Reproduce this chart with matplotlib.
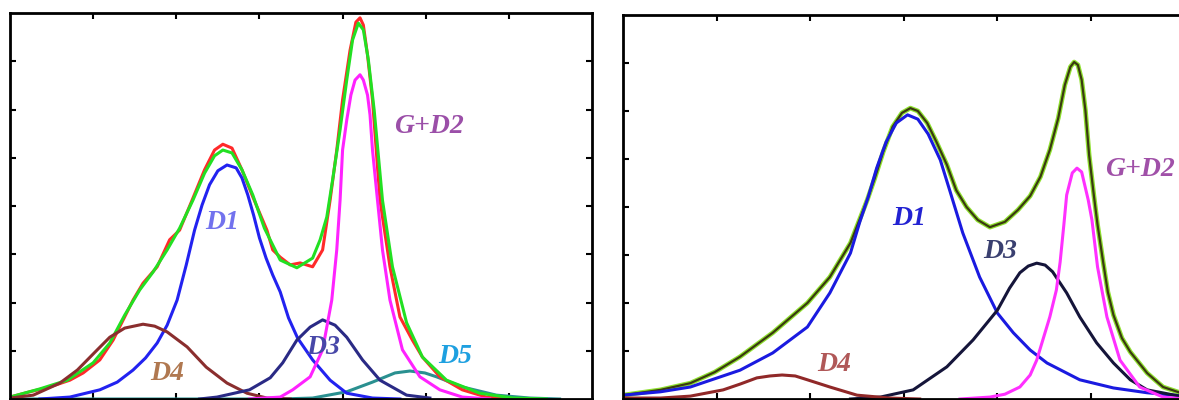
import matplotlib
matplotlib.use("Agg")
import matplotlib.pyplot as plt

# ---- left spectrum (arbitrary units: x in tick steps, y in tick steps) ----
left_meas_x = [0.00, 0.24, 0.48, 0.72, 0.88, 1.08, 1.24, 1.48, 1.60, 1.77, 1.92, 2.04, 2.19, 2.34,
               2.46, 2.56, 2.67, 2.79, 2.92, 3.09, 3.16, 3.25, 3.37, 3.49, 3.64, 3.76, 3.85, 3.93,
               4.00, 4.09, 4.16, 4.21, 4.25, 4.30, 4.36, 4.45, 4.57, 4.69, 4.84, 4.96, 5.17, 5.44,
               5.73, 6.05]
left_meas_y = [0.04, 0.15, 0.25, 0.39, 0.54, 0.81, 1.22, 2.05, 2.40, 2.74, 3.30, 3.50, 4.12, 4.75,
               5.16, 5.28, 5.20, 4.75, 4.19, 3.50, 3.09, 2.94, 2.78, 2.82, 2.74, 3.09, 4.12, 5.16,
               6.20, 7.23, 7.81, 7.90, 7.75, 7.13, 6.20, 4.12, 2.74, 1.70, 1.22, 0.87, 0.46, 0.19,
               0.04, 0.00]

left_fit_x = [0.00, 0.36, 0.69, 1.00, 1.20, 1.38, 1.56, 1.72, 1.89, 2.04, 2.20, 2.34, 2.46, 2.56,
              2.67, 2.79, 2.92, 3.06, 3.25, 3.45, 3.64, 3.73, 3.81, 3.88, 3.97, 4.05, 4.12, 4.19,
              4.25, 4.31, 4.38, 4.48, 4.60, 4.77, 4.96, 5.25, 5.65, 6.05, 6.45]
left_fit_y = [0.04, 0.21, 0.39, 0.75, 1.16, 1.74, 2.26, 2.63, 3.09, 3.54, 4.12, 4.68, 5.04, 5.16,
              5.10, 4.75, 4.23, 3.54, 2.88, 2.72, 2.92, 3.30, 3.77, 4.54, 5.58, 6.61, 7.44, 7.79,
              7.65, 7.03, 5.99, 4.12, 2.74, 1.58, 0.87, 0.39, 0.12, 0.02, 0.00]

left_d1_x = [0.36, 0.72, 1.08, 1.29, 1.48, 1.63, 1.77, 1.89, 2.01, 2.12, 2.22, 2.31, 2.40, 2.50,
             2.61, 2.72, 2.79, 2.86, 2.93, 3.00, 3.08, 3.16, 3.25, 3.35, 3.46, 3.64, 3.85, 4.05,
             4.36, 4.69]
left_d1_y = [0.00, 0.04, 0.19, 0.35, 0.60, 0.85, 1.16, 1.53, 2.05, 2.78, 3.50, 4.02, 4.44, 4.73,
             4.85, 4.79, 4.58, 4.23, 3.81, 3.34, 2.92, 2.57, 2.22, 1.68, 1.26, 0.81, 0.39, 0.12,
             0.02, 0.00]

left_d4_x = [0.00, 0.28, 0.60, 0.81, 1.05, 1.20, 1.38, 1.60, 1.74, 1.89, 2.13, 2.36, 2.61, 2.85,
             3.09, 3.37]
left_d4_y = [0.02, 0.08, 0.33, 0.60, 1.02, 1.28, 1.47, 1.55, 1.51, 1.39, 1.08, 0.66, 0.33, 0.12,
             0.02, 0.00]

left_d3_x = [2.28, 2.49, 2.88, 3.13, 3.28, 3.45, 3.61, 3.76, 3.91, 4.05, 4.24, 4.45, 4.77, 5.05]
left_d3_y = [0.00, 0.04, 0.19, 0.44, 0.75, 1.22, 1.49, 1.64, 1.53, 1.28, 0.81, 0.39, 0.08, 0.02]

left_g_x = [2.88, 3.25, 3.40, 3.61, 3.76, 3.87, 3.93, 3.97, 4.00, 4.05, 4.10, 4.15, 4.21, 4.25,
            4.30, 4.33, 4.36, 4.42, 4.48, 4.57, 4.72, 4.93, 5.17, 5.44, 5.77]
left_g_y = [0.00, 0.04, 0.19, 0.46, 1.02, 2.05, 3.09, 4.12, 5.16, 5.78, 6.30, 6.61, 6.72, 6.61,
            6.30, 5.89, 5.16, 4.12, 3.09, 2.05, 1.02, 0.46, 0.19, 0.04, 0.00]

left_d5_x = [0.00, 1.50, 3.25, 3.64, 4.05, 4.36, 4.63, 4.81, 4.99, 5.13, 5.44, 5.85, 6.25, 6.61]
left_d5_y = [0.00, 0.00, 0.00, 0.02, 0.15, 0.35, 0.54, 0.58, 0.54, 0.46, 0.25, 0.08, 0.02, 0.00]

# ---- right spectrum ----
right_fit_x = [0.00, 0.40, 0.72, 0.98, 1.25, 1.60, 1.97, 2.21, 2.43, 2.61, 2.69, 2.78, 2.88, 2.98,
               3.07, 3.15, 3.25, 3.35, 3.46, 3.56, 3.67, 3.79, 3.92, 4.08, 4.22, 4.35, 4.46, 4.56,
               4.65, 4.72, 4.78, 4.82, 4.86, 4.90, 4.94, 4.98, 5.03, 5.07, 5.13, 5.18, 5.24, 5.33,
               5.42, 5.60, 5.77, 6.00]
right_fit_y = [0.08, 0.19, 0.33, 0.56, 0.88, 1.38, 2.00, 2.54, 3.25, 4.15, 4.60, 5.15, 5.67, 5.96,
               6.06, 6.00, 5.75, 5.35, 4.88, 4.35, 4.00, 3.73, 3.58, 3.69, 3.94, 4.23, 4.63, 5.19,
               5.85, 6.54, 6.92, 7.02, 6.96, 6.65, 6.02, 5.08, 4.25, 3.63, 2.85, 2.23, 1.75, 1.27,
               0.98, 0.54, 0.25, 0.10]

right_d1_x = [0.00, 0.40, 0.72, 1.25, 1.60, 1.97, 2.21, 2.43, 2.53, 2.62, 2.71, 2.81, 2.92, 3.04,
              3.15, 3.26, 3.39, 3.49, 3.63, 3.81, 4.00, 4.17, 4.35, 4.53, 4.88, 5.24, 5.60, 6.00]
right_d1_y = [0.08, 0.15, 0.25, 0.60, 0.96, 1.50, 2.21, 3.04, 3.69, 4.21, 4.81, 5.35, 5.75, 5.92,
              5.83, 5.52, 4.98, 4.35, 3.46, 2.54, 1.79, 1.38, 1.02, 0.75, 0.40, 0.23, 0.13, 0.06]

right_g_x = [3.60, 3.92, 4.08, 4.24, 4.35, 4.42, 4.56, 4.63, 4.67, 4.71, 4.74, 4.80, 4.85, 4.90,
             4.97, 5.01, 5.07, 5.17, 5.31, 5.52, 5.77, 6.00]
right_g_y = [0.00, 0.04, 0.10, 0.25, 0.50, 0.81, 1.71, 2.27, 2.85, 3.63, 4.25, 4.71, 4.81, 4.73,
             4.15, 3.73, 2.75, 1.71, 0.81, 0.25, 0.04, 0.00]

right_d3_x = [2.43, 2.75, 3.10, 3.46, 3.74, 4.00, 4.13, 4.24, 4.33, 4.42, 4.51, 4.59, 4.74, 4.88,
              5.06, 5.24, 5.42, 5.60, 6.00]
right_d3_y = [0.00, 0.04, 0.19, 0.67, 1.23, 1.85, 2.31, 2.63, 2.77, 2.83, 2.79, 2.65, 2.21, 1.71,
              1.17, 0.75, 0.40, 0.19, 0.04]

right_d4_x = [0.00, 0.40, 0.72, 1.07, 1.25, 1.43, 1.57, 1.70, 1.84, 1.97, 2.21, 2.50, 2.85, 3.17]
right_d4_y = [0.02, 0.02, 0.06, 0.19, 0.31, 0.44, 0.48, 0.50, 0.48, 0.40, 0.25, 0.08, 0.02, 0.00]

left_labels = [("G+D2", 5.04, 5.64, "#9b4fa8"), ("D1", 2.55, 3.65, "#7272ee"),
               ("D3", 3.77, 1.06, "#4848a8"), ("D4", 1.89, 0.52, "#b07850"),
               ("D5", 5.35, 0.89, "#1ea0e0")]
right_labels = [("G+D2", 5.52, 4.79, "#a050a8"), ("D1", 3.06, 3.77, "#2222d2"),
                ("D3", 4.03, 3.08, "#3a4070"), ("D4", 2.26, 0.71, "#b05858")]

fig = plt.figure(figsize=(11.79, 4.0), dpi=100)
ax1 = fig.add_axes([10 / 1179, 1 / 400, 582 / 1179, 386 / 400])
ax2 = fig.add_axes([623 / 1179, 1 / 400, 561.6 / 1179, 384 / 400])

lw = 2.2
ax1.plot(left_d5_x, left_d5_y, color="#2a9090", lw=lw)
ax1.plot(left_meas_x, left_meas_y, color="#ff2a2a", lw=lw)
ax1.plot(left_fit_x, left_fit_y, color="#22e022", lw=lw)
ax1.plot(left_d1_x, left_d1_y, color="#2222f0", lw=lw)
ax1.plot(left_d4_x, left_d4_y, color="#8a2e2e", lw=lw)
ax1.plot(left_d3_x, left_d3_y, color="#2a2a85", lw=lw)
ax1.plot(left_g_x, left_g_y, color="#ff22ff", lw=lw)

ax2.plot(right_fit_x, right_fit_y, color="#8fe030", lw=3.4)
ax2.plot(right_fit_x, right_fit_y, color="#3a3a10", lw=1.6)
ax2.plot(right_d1_x, right_d1_y, color="#1a1ae0", lw=lw)
ax2.plot(right_d3_x, right_d3_y, color="#15153a", lw=lw)
ax2.plot(right_g_x, right_g_y, color="#ff30ff", lw=lw)
ax2.plot(right_d4_x, right_d4_y, color="#902828", lw=lw)

for ax, labels in ((ax1, left_labels), (ax2, right_labels)):
    for txt, x, y, c in labels:
        ax.text(x, y, txt, color=c, fontsize=20, fontweight="bold", fontstyle="italic",
                family="Liberation Serif", ha="center", va="center")

ax1.set_xlim(0, 7)
ax1.set_ylim(0, 8)
ax2.set_xlim(0, 6)
ax2.set_ylim(0, 8)
for ax in (ax1, ax2):
    ax.set_xticks(range(1, 7))
    ax.set_yticks(range(1, 8))
    ax.tick_params(direction="in", top=True, right=True, length=4, width=1.5,
                   labelbottom=False, labelleft=False)
    for s in ax.spines.values():
        s.set_linewidth(2)

fig.savefig("out.png", dpi=100)
